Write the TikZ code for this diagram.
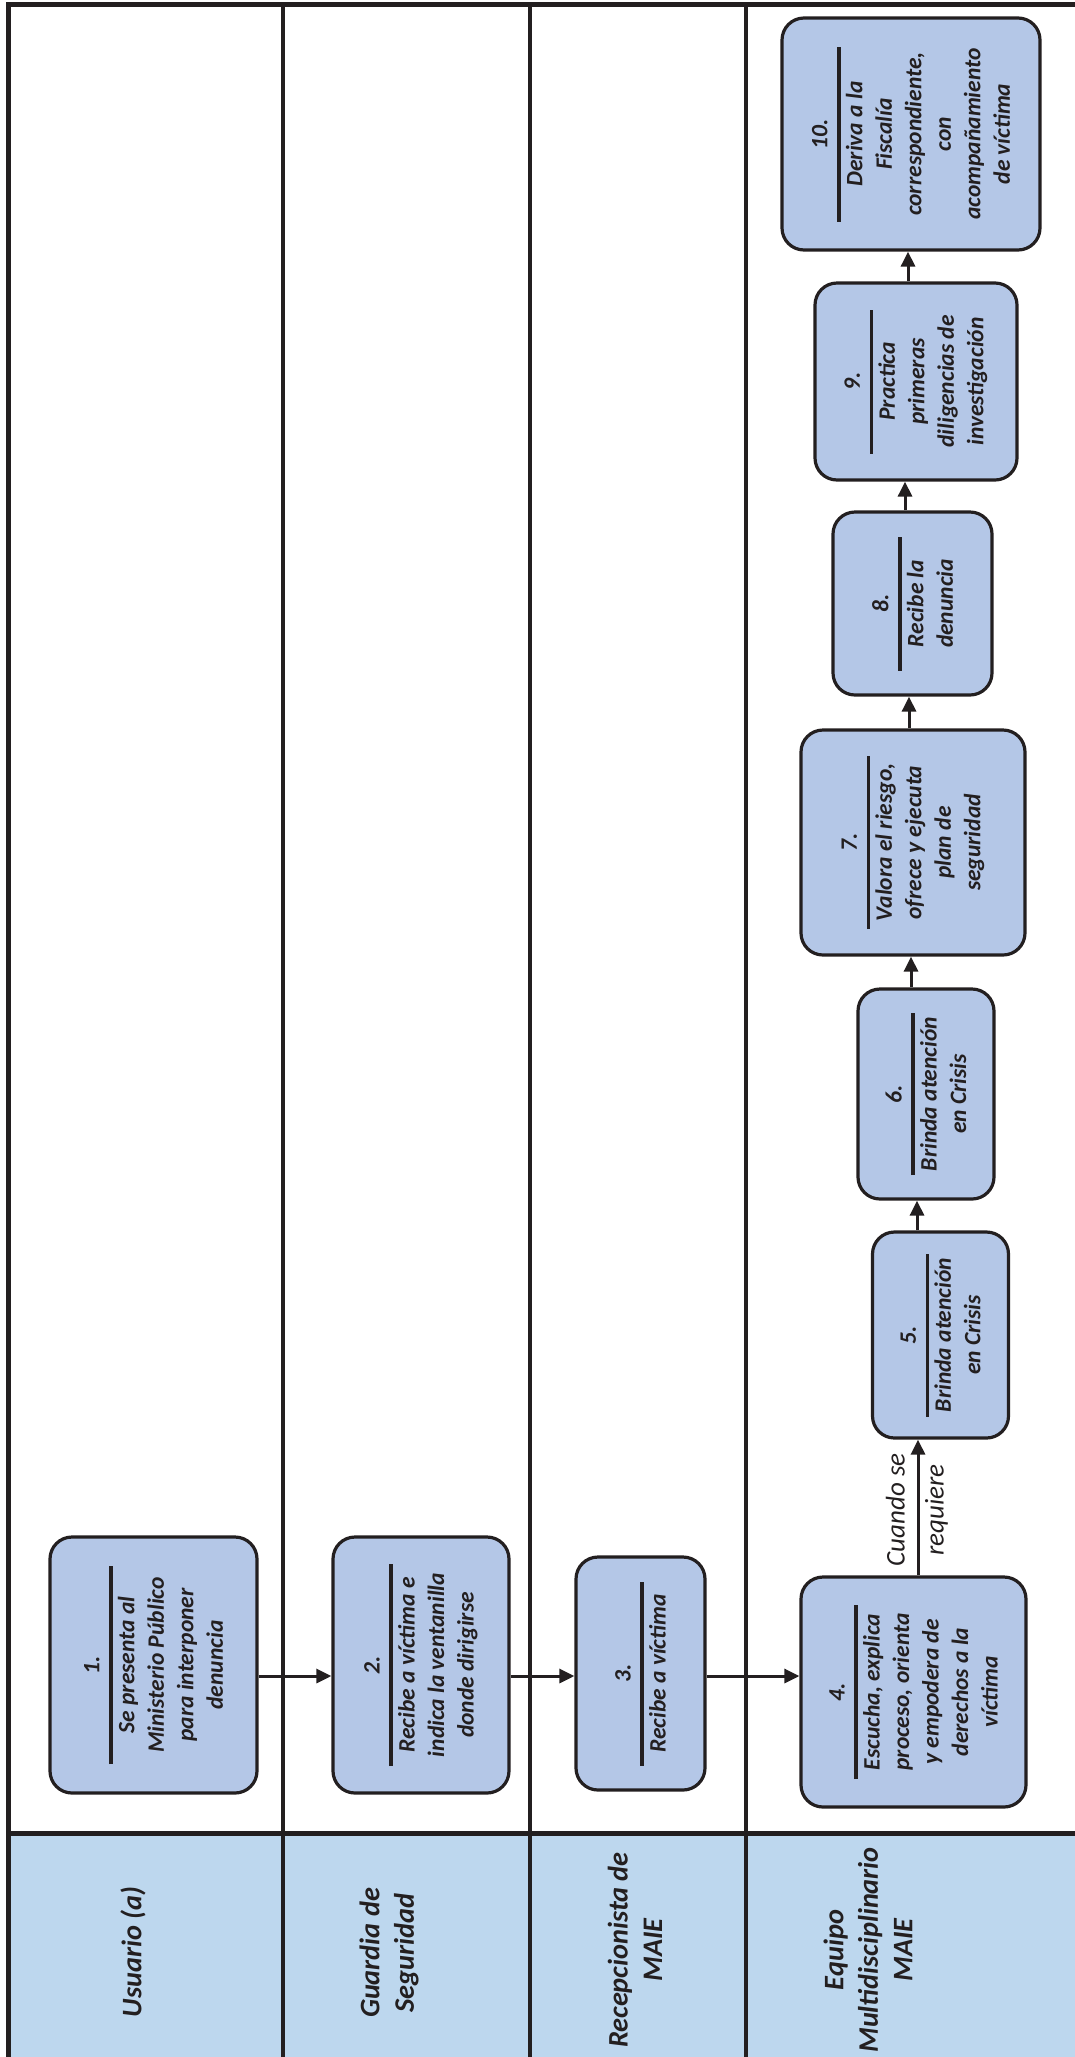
\documentclass[tikz,border=0pt]{standalone}
\usepackage{fontspec}
\setmainfont{Carlito}
\usetikzlibrary{arrows.meta}
\definecolor{ink}{HTML}{231F20}
\definecolor{boxblue}{HTML}{B4C7E7}
\definecolor{headblue}{HTML}{BDD7EE}
\newcommand{\stepcontent}[3]{#1\\[-16.25pt]\rule{#2pt}{3.5pt}\\[-7.75pt]#3}
\tikzset{
  stepbox/.style={draw=ink, fill=boxblue, line width=3.2pt, rounded corners=22pt, rotate=90,
    inner sep=0pt, align=center, text=ink, font=\fontsize{23.5}{29.5}\selectfont\bfseries\itshape},
  laneline/.style={draw=ink, line width=4.5pt},
  flow/.style={draw=ink, line width=3pt, -{Triangle[length=15pt,width=14pt]}},
  headtext/.style={rotate=90, align=center, text=ink, inner sep=0pt,
    font=\fontsize{28.3}{34.5}\selectfont\bfseries\itshape},
  condtext/.style={rotate=90, align=center, text=ink, inner sep=0pt,
    font=\fontsize{27}{39}\selectfont\itshape},
}
\begin{document}
\begin{tikzpicture}[x=1pt,y=-1pt]
\useasboundingbox (0,0) rectangle (1075,2057);
% header band
\fill[headblue] (8.5,1833) rectangle (1075,2057);
% lane grid
\draw[laneline, line width=5pt] (6,4) -- (1075,4);
\draw[laneline] (8.5,2) -- (8.5,2057);
\draw[laneline] (283,2) -- (283,2057);
\draw[laneline] (530,2) -- (530,2057);
\draw[laneline] (746,2) -- (746,2057);
\draw[laneline, line width=5pt] (6,1833) -- (1075,1833);
% lane headers
\node[headtext] (h1) at (133,1952) {Usuario (a)};
\node[headtext] (h2) at (389,1953) {Guardia de\\Seguridad};
\node[headtext] (h3) at (635,1950) {Recepcionista de\\MAIE};
\node[headtext] (h4) at (868,1950) {Equipo\\Multidisciplinario\\MAIE};
% steps
\node[stepbox, minimum width=256pt, minimum height=207pt] (b1) at (153.5,1665)
  {\stepcontent{1.}{198}{Se presenta al\\Ministerio Público\\para interponer\\denuncia}};
\node[stepbox, minimum width=256pt, minimum height=176pt] (b2) at (421,1665)
  {\stepcontent{2.}{202}{Recibe a víctima e\\indica la ventanilla\\donde dirigirse}};
\node[stepbox, minimum width=233pt, minimum height=129pt] (b3) at (640.5,1673.5)
  {\stepcontent{3.}{184}{Recibe a víctima}};
\node[stepbox, minimum width=230pt, minimum height=225pt] (b4) at (913.5,1692)
  {\stepcontent{4.}{174}{Escucha, explica\\proceso, orienta\\y empodera de\\derechos a la\\víctima}};
\node[stepbox, minimum width=206pt, minimum height=136pt] (b5) at (940.5,1335)
  {\stepcontent{5.}{163}{Brinda atención\\en Crisis}};
\node[stepbox, minimum width=210pt, minimum height=136pt] (b6) at (926,1094)
  {\stepcontent{6.}{162}{Brinda atención\\en Crisis}};
\node[stepbox, minimum width=225pt, minimum height=224pt] (b7) at (913,842.5)
  {\stepcontent{7.}{173}{Valora el riesgo,\\ofrece y ejecuta\\plan de\\seguridad}};
\node[stepbox, minimum width=183pt, minimum height=159pt] (b8) at (912.5,603.5)
  {\stepcontent{8.}{134}{Recibe la\\denuncia}};
\node[stepbox, minimum width=197pt, minimum height=202pt] (b9) at (916,381.5)
  {\stepcontent{9.}{144}{Practica\\primeras\\diligencias de\\investigación}};
\node[stepbox, minimum width=232pt, minimum height=258pt] (b10) at (911,134)
  {\stepcontent{10.}{175}{Deriva a la\\Fiscalía\\correspondiente,\\con\\acompañamiento\\de víctima}};
% connectors
\coordinate (ya) at (0,1676);
\draw[flow] (b1.south |- ya) -- (b2.north |- ya);
\draw[flow] (b2.south |- ya) -- (b3.north |- ya);
\draw[flow] (b3.south |- ya) -- (b4.north |- ya);
\coordinate (x45) at (918,0);
\coordinate (x56) at (917,0);
\coordinate (x67) at (911,0);
\coordinate (x78) at (909,0);
\coordinate (x89) at (905,0);
\coordinate (x910) at (908,0);
\draw[flow] (b4.east -| x45) -- (b5.west -| x45);
\draw[flow] (b5.east -| x56) -- (b6.west -| x56);
\draw[flow] (b6.east -| x67) -- (b7.west -| x67);
\draw[flow] (b7.east -| x78) -- (b8.west -| x78);
\draw[flow] (b8.east -| x89) -- (b9.west -| x89);
\draw[flow] (b9.east -| x910) -- (b10.west -| x910);
\node[condtext] (cond) at (917,1510) {Cuando se\\requiere};
\end{tikzpicture}
\end{document}
